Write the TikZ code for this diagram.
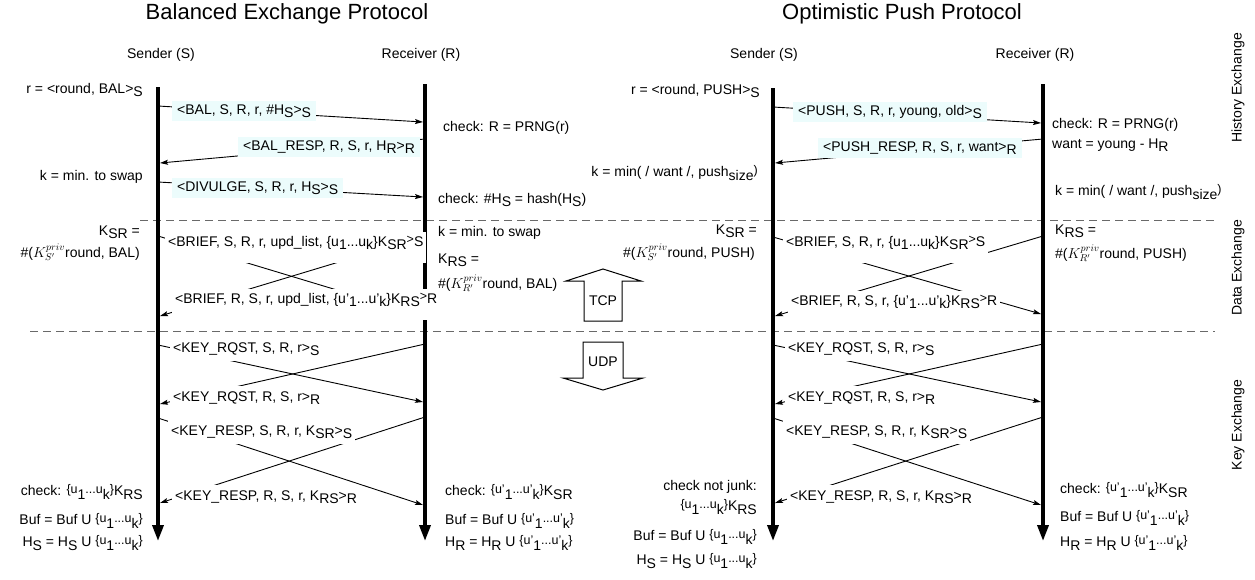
\documentclass[tikz,border=0pt]{standalone}
\usepackage{fontspec}
\setmainfont{Liberation Sans}
\usetikzlibrary{arrows.meta}
\definecolor{msgbg}{RGB}{236,252,252}
\definecolor{phasegray}{RGB}{105,105,105}
\newcommand{\lo}[1]{\raisebox{-0.45ex}{#1}}
\newcommand{\up}[1]{\raisebox{0.3ex}{\fontsize{12.5}{14}\selectfont #1}}

\begin{document}
\begin{tikzpicture}[x=1pt, y=-1pt,
        every node/.style={font=\fontsize{14}{16}\selectfont, inner sep=0pt},
        title/.style={font=\fontsize{22}{26}\selectfont},
        life/.style={line width=3.5pt, -{Triangle[length=16pt,width=11pt]}},
        msg/.style={line width=0.9pt, -{Stealth[length=8pt,width=5pt,inset=1.5pt]}},
        tag/.style={fill=msgbg, inner xsep=5pt, inner ysep=3pt, anchor=west},
        lbl/.style={fill=white, inner xsep=3pt, inner ysep=5pt, anchor=west},
        brief/.style={fill=white, inner xsep=3pt, inner ysep=2pt, anchor=base west,
              text height=12pt, text depth=15pt},
        phase/.style={draw=phasegray, line width=1pt, dash pattern=on 8pt off 5pt},
        block/.style={line width=1pt, line join=miter, fill=white}]
        \useasboundingbox (0,0) rectangle (1255,579);

        \node[title] (tbal) at (287,14) {Balanced Exchange Protocol};
        \node[title] (tpush) at (902,14) {Optimistic Push Protocol};
        \node (bsend) at (161,55) {Sender (S)};
        \node (brecv) at (421,55) {Receiver (R)};
        \node (psend) at (764,55) {Sender (S)};
        \node (precv) at (1035,55) {Receiver (R)};
        \node[rotate=90] (hist) at (1238,88) {History Exchange};
        \node[rotate=90] (data) at (1238,268) {Data Exchange};
        \node[rotate=90] (keyx) at (1238,425) {Key Exchange};

        \coordinate (ph1a) at (140,220); \coordinate (ph1b) at (1215,220);
        \coordinate (ph2a) at (30,331);  \coordinate (ph2b) at (1215,331);
        \draw[phase] (ph1a) -- (ph1b);
        \draw[phase] (ph2a) -- (ph2b);

        \coordinate (bsT) at (158,87);  \coordinate (bsB) at (158,541);
        \coordinate (brT) at (425,84);  \coordinate (brB) at (425,541);
        \coordinate (psT) at (773,88);  \coordinate (psB) at (773,541);
        \coordinate (prT) at (1043,84); \coordinate (prB) at (1043,541);
        \draw[life] (bsT) -- (bsB);
        \draw[life] (brT) -- (brB);
        \draw[life] (psT) -- (psB);
        \draw[life] (prT) -- (prB);

        % balanced exchange
        \coordinate (b1a) at (158,106); \coordinate (b1b) at (423,122);
        \coordinate (b2a) at (425,139); \coordinate (b2b) at (160,163);
        \coordinate (b3a) at (158,182); \coordinate (b3b) at (423,197);
        \coordinate (b4a) at (158,236); \coordinate (b4b) at (423,316);
        \coordinate (b5a) at (425,236); \coordinate (b5b) at (160,316);
        \coordinate (b6a) at (158,345); \coordinate (b6b) at (423,402);
        \coordinate (b7a) at (425,344); \coordinate (b7b) at (160,404);
        \coordinate (b8a) at (158,418); \coordinate (b8b) at (423,505);
        \coordinate (b9a) at (425,417); \coordinate (b9b) at (160,503);
        \foreach \m in {1,...,9} \draw[msg] (b\m a) -- (b\m b);

        \node[anchor=east] (bround) at (143,90) {r = <round, BAL>\lo{S}};
        \node[tag] (bbal) at (172,111) {<BAL, S, R, r, \#H\lo{S}>\lo{S}};
        \node[anchor=west] (bprng) at (443,128) {check: R = PRNG(r)};
        \node[tag] (bresp) at (238,147) {<BAL\_RESP, R, S, r, H\lo{R}>\lo{R}};
        \node[anchor=east] (bkmin) at (143,177) {k = min. to swap};
        \node[tag] (bdiv) at (172,188) {<DIVULGE, S, R, r, H\lo{S}>\lo{S}};
        \node[anchor=west] (bhash) at (438,200) {check: \#H\lo{S} = hash(H\lo{S})};

        \node[anchor=east] (bksr) at (140,232) {K\lo{SR} =};
        \node[anchor=east] (bksrv) at (140,252) {\#($K_{S'}^{priv}$round, BAL)};
        \node[brief] (bbr1) at (165,246) {<BRIEF, S, R, r, upd\_list, \{u\lo{1}...u\lo{k}\}K\lo{SR}\up{>}S};
        \node[brief] (bbr2) at (172,303) {<BRIEF, R, S, r, upd\_list, \{u'\lo{1}...u'\lo{k}\}K\lo{RS}\up{>}R};
        \node[anchor=west] (bkmin2) at (438,233) {k = min. to swap};
        \node[anchor=west] (bkrs) at (438,260) {K\lo{RS} =};
        \node[anchor=west] (bkrsv) at (438,283) {\#($K_{R'}^{priv}$round, BAL)};

        \node[lbl] (bq1) at (170,349) {<KEY\_RQST, S, R, r>\lo{S}};
        \node[lbl] (bq2) at (170,398) {<KEY\_RQST, R, S, r>\lo{R}};
        \node[lbl] (bk1) at (168,432) {<KEY\_RESP, S, R, r, K\lo{SR}>\lo{S}};
        \node[lbl] (bk2) at (172,497) {<KEY\_RESP, R, S, r, K\lo{RS}>\lo{R}};
        \node[anchor=east] (bchk) at (143,492) {check: \up{\{u}\lo{1}\up{...u}\lo{k}\up{\}}K\lo{RS}};
        \node[anchor=east] (bbuf) at (143,521) {Buf = Buf U \up{\{u}\lo{1}\up{...u}\lo{k}\up{\}}};
        \node[anchor=east] (bhs) at (143,543) {H\lo{S} = H\lo{S} U \up{\{u}\lo{1}\up{...u}\lo{k}\up{\}}};
        \node[anchor=west] (bchk2) at (445,492) {check: \up{\{u'}\lo{1}\up{...u'}\lo{k}\up{\}}K\lo{SR}};
        \node[anchor=west] (bbuf2) at (445,521) {Buf = Buf U \up{\{u'}\lo{1}\up{...u'}\lo{k}\up{\}}};
        \node[anchor=west] (bhr) at (445,543) {H\lo{R} = H\lo{R} U \up{\{u'}\lo{1}\up{...u'}\lo{k}\up{\}}};

        % transport arrows
        \draw[block] (584,321) -- (584,281) -- (566,281) -- (603,269) -- (641,281)
              -- (622,281) -- (622,321) -- cycle;
        \node (tcp) at (603,301) {TCP};
        \draw[block] (583,342) -- (623,342) -- (623,378) -- (643,378) -- (603,390)
              -- (563,378) -- (583,378) -- cycle;
        \node (udp) at (603,362) {UDP};

        % optimistic push
        \coordinate (p1a) at (773,107);  \coordinate (p1b) at (1041,123);
        \coordinate (p2a) at (1043,139); \coordinate (p2b) at (775,163);
        \coordinate (p3a) at (773,237);  \coordinate (p3b) at (1041,314);
        \coordinate (p4a) at (1043,236); \coordinate (p4b) at (775,316);
        \coordinate (p5a) at (773,345);  \coordinate (p5b) at (1041,402);
        \coordinate (p6a) at (1043,344); \coordinate (p6b) at (775,404);
        \coordinate (p7a) at (773,418);  \coordinate (p7b) at (1041,505);
        \coordinate (p8a) at (1043,417); \coordinate (p8b) at (775,503);
        \foreach \m in {1,...,8} \draw[msg] (p\m a) -- (p\m b);

        \node[anchor=east] (pround) at (760,91) {r = <round, PUSH>\lo{S}};
        \node[tag] (ppush) at (793,112) {<PUSH, S, R, r, young, old>\lo{S}};
        \node[anchor=west] (pprng) at (1052,125) {check: R = PRNG(r)};
        \node[anchor=west] (pwant) at (1052,145) {want = young - H\lo{R}};
        \node[tag] (presp) at (818,148) {<PUSH\_RESP, R, S, r, want>\lo{R}};
        \node[anchor=east] (pkmin) at (758,173) {k = min( / want /, push\lo{size}\up{)}};
        \node[anchor=west] (pkmin2) at (1055,192) {k = min( / want /, push\lo{size}\up{)}};

        \node[anchor=east] (pksr) at (757,231) {K\lo{SR} =};
        \node[anchor=east] (pksrv) at (755,252) {\#($K_{S'}^{priv}$round, PUSH)};
        \node[brief] (pbr1) at (783,246) {<BRIEF, S, R, r, \{u\lo{1}...u\lo{k}\}K\lo{SR}\up{>}S};
        \node[brief] (pbr2) at (788,305) {<BRIEF, R, S, r, \{u'\lo{1}...u'\lo{k}\}K\lo{RS}\up{>}R};
        \node[anchor=west] (pkrs) at (1055,231) {K\lo{RS} =};
        \node[anchor=west] (pkrsv) at (1055,253) {\#($K_{R'}^{priv}$round, PUSH)};

        \node[lbl] (pq1) at (785,349) {<KEY\_RQST, S, R, r>\lo{S}};
        \node[lbl] (pq2) at (785,398) {<KEY\_RQST, R, S, r>\lo{R}};
        \node[lbl] (pk1) at (783,432) {<KEY\_RESP, S, R, r, K\lo{SR}>\lo{S}};
        \node[lbl] (pk2) at (787,497) {<KEY\_RESP, R, S, r, K\lo{RS}>\lo{R}};
        \node[anchor=east] (pjunk) at (757,487) {check not junk:};
        \node[anchor=east] (pchk) at (757,507) {\up{\{u}\lo{1}\up{...u}\lo{k}\up{\}}K\lo{RS}};
        \node[anchor=east] (pbuf) at (757,537) {Buf = Buf U \up{\{u}\lo{1}\up{...u}\lo{k}\up{\}}};
        \node[anchor=east] (phs) at (757,561) {H\lo{S} = H\lo{S} U \up{\{u}\lo{1}\up{...u}\lo{k}\up{\}}};
        \node[anchor=west] (pchk2) at (1060,490) {check: \up{\{u'}\lo{1}\up{...u'}\lo{k}\up{\}}K\lo{SR}};
        \node[anchor=west] (pbuf2) at (1060,518) {Buf = Buf U \up{\{u'}\lo{1}\up{...u'}\lo{k}\up{\}}};
        \node[anchor=west] (phr) at (1060,543) {H\lo{R} = H\lo{R} U \up{\{u'}\lo{1}\up{...u'}\lo{k}\up{\}}};
\end{tikzpicture}
\end{document}
